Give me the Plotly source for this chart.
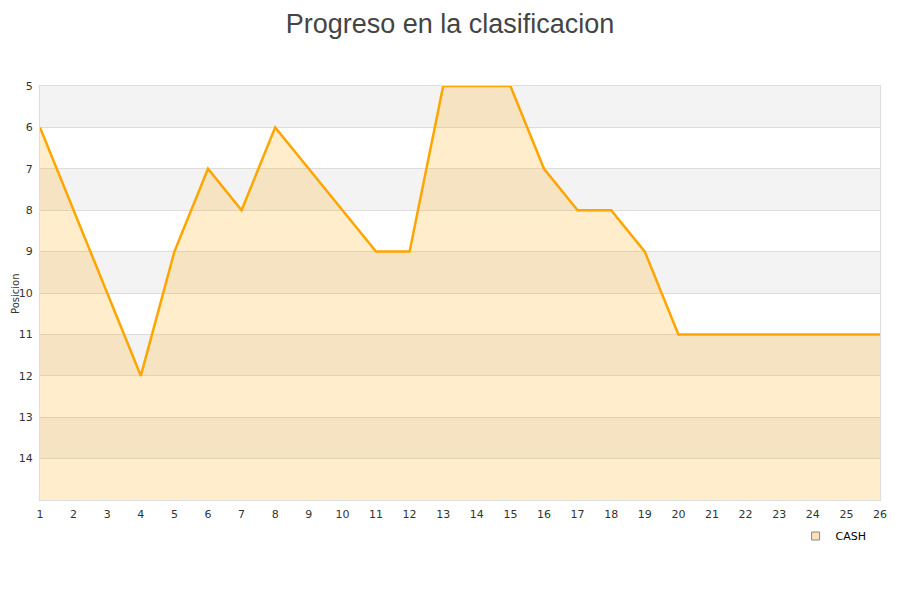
import plotly.graph_objects as go

jornadas = list(range(1, 27))
posiciones = [6, 8, 10, 12, 9, 7, 8, 6, 7, 8, 9, 9, 5, 5, 5, 7, 8, 8, 9, 11, 11, 11, 11, 11, 11, 11]
equipo = "CASH"
y_ticks = list(range(5, 15))
y_min, y_max = 5, 15

fig = go.Figure()

# baseline for fill
fig.add_trace(go.Scatter(x=jornadas, y=[y_max] * len(jornadas), mode="lines",
                         line=dict(width=0, color="rgba(0,0,0,0)"), showlegend=False,
                         hoverinfo="skip"))
fig.add_trace(go.Scatter(x=jornadas, y=posiciones, mode="lines", name=equipo,
                         line=dict(color="#FFA500", width=2.5),
                         fill="tonexty", fillcolor="rgba(255,165,0,0.2)",
                         showlegend=False))
# legend marker
fig.add_trace(go.Scatter(x=[None], y=[None], mode="markers", name=equipo,
                         marker=dict(symbol="square", size=8, color="rgba(255,225,180,1)",
                                     line=dict(color="#888", width=1))))

shapes = []
for k in range(y_min, y_max, 2):
    shapes.append(dict(type="rect", xref="paper", yref="y", x0=0, x1=1, y0=k, y1=k + 1,
                       fillcolor="#f3f3f3", line=dict(width=0), layer="below"))

fig.update_layout(
    width=884, height=584,
    margin=dict(l=32, r=12, t=78, b=92, autoexpand=False),
    paper_bgcolor="white", plot_bgcolor="white",
    title=dict(text="Progreso en la clasificacion", x=0.5, xanchor="center", y=0.99, yanchor="top",
               pad=dict(t=0, b=0),
               font=dict(family="Liberation Sans, Arial, sans-serif", size=27, color="#444")),
    font=dict(family="DejaVu Sans, sans-serif", size=11, color="#333"),
    shapes=shapes,
    annotations=[dict(text="Posicion", xref="paper", yref="paper", x=-0.0298, y=0.5,
                      xanchor="center", yanchor="middle", textangle=-90, showarrow=False,
                      borderpad=0, font=dict(size=10, color="#333"))],
    xaxis=dict(range=[1, 26], tickvals=jornadas, showgrid=False, zeroline=False, automargin=False,
               showline=True, linecolor="#ddd", mirror=True, ticks="", ticklabelstandoff=4,
               tickfont=dict(size=11, color="#333")),
    yaxis=dict(range=[y_max, y_min], tickvals=y_ticks, showgrid=True, gridcolor="#ddd",
               zeroline=False, showline=True, linecolor="#ddd", mirror=True, ticks="",
               automargin=False, ticklabelstandoff=4,
               tickfont=dict(size=11, color="#333")),
    legend=dict(x=0.99, xanchor="right", y=-0.087, yanchor="middle", bgcolor="rgba(0,0,0,0)",
                font=dict(size=11, color="#000")),
)

fig.write_html("out.html")
